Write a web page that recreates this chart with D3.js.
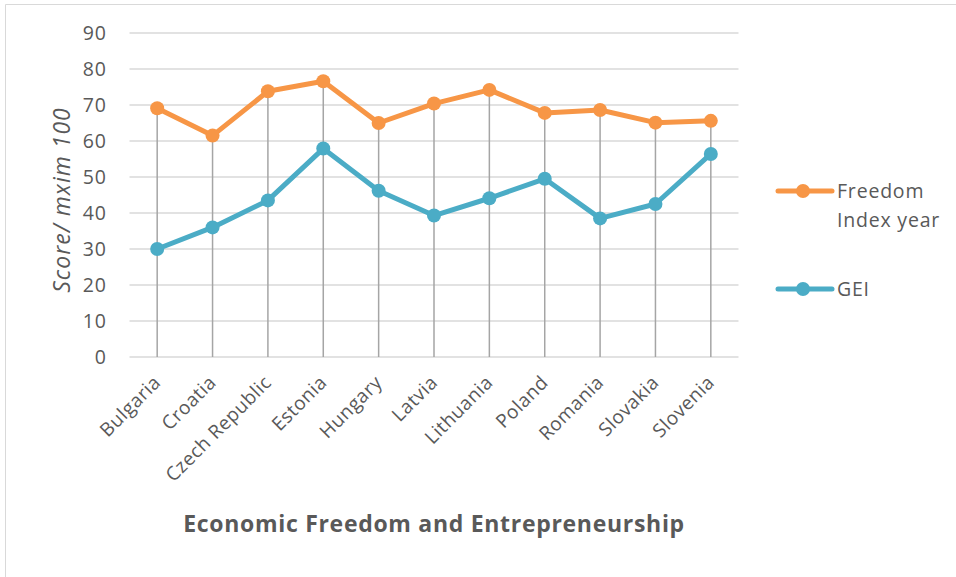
<!DOCTYPE html>
<html lang="en">
<head>
	<meta charset="utf-8">
	<title>Economic Freedom and Entrepreneurship</title>
	<script src="https://cdn.jsdelivr.net/npm/d3@7"></script>
	<style>
		body { margin: 0; background: #fff; }
		text { font-family: "Open Sans", sans-serif; fill: #595959; }
	</style>
</head>
<body>
	<script>
		var countries = ["Bulgaria", "Croatia", "Czech Republic", "Estonia", "Hungary", "Latvia",
			"Lithuania", "Poland", "Romania", "Slovakia", "Slovenia"];
		var freedom = [69.1, 61.5, 73.8, 76.6, 65.0, 70.4, 74.2, 67.8, 68.6, 65.1, 65.6];
		var gei = [30.0, 36.0, 43.5, 57.9, 46.2, 39.3, 44.1, 49.5, 38.5, 42.5, 56.4];
		var yTicks = [0, 10, 20, 30, 40, 50, 60, 70, 80, 90];

		var w = 956, h = 577;
		var svg = d3.select("body").append("svg")
			.attr("width", w)
			.attr("height", h);

		// frame of the chart area
		svg.append("path")
			.attr("d", "M5.5,577 V4.5 H956")
			.attr("fill", "none")
			.attr("stroke", "#d9d9d9");

		var x = d3.scaleBand().domain(countries).range([129.5, 738.5]);
		var y = d3.scaleLinear().domain([0, 90]).range([357, 33]);
		var cx = function(d) { return x(d) + x.bandwidth() / 2; };

		// gridlines
		svg.append("g").selectAll("line")
			.data(yTicks)
			.enter().append("line")
			.attr("x1", 129.5).attr("x2", 738.5)
			.attr("y1", function(d) { return y(d); })
			.attr("y2", function(d) { return y(d); })
			.attr("stroke", "#d9d9d9")
			.attr("stroke-width", 1.5);

		// y axis labels
		var yAxis = d3.axisLeft(y).tickValues(yTicks).tickSize(0).tickPadding(0);
		svg.append("g")
			.attr("transform", "translate(107,0)")
			.call(yAxis)
			.call(function(g) { g.select(".domain").remove(); })
			.selectAll("text")
			.attr("font-family", "Open Sans")
			.attr("font-size", "19.5px")
			.attr("letter-spacing", "1px")
			.attr("fill", "#595959");

		// drop lines
		svg.append("g").selectAll("line")
			.data(countries)
			.enter().append("line")
			.attr("x1", cx).attr("x2", cx)
			.attr("y1", y(0))
			.attr("y2", function(d, i) { return y(Math.max(freedom[i], gei[i])); })
			.attr("stroke", "#a5a5a5")
			.attr("stroke-width", 1.5);

		// x axis labels
		svg.append("g").selectAll("text")
			.data(countries)
			.enter().append("text")
			.attr("transform", function(d) { return "translate(" + cx(d) + ",379) rotate(-45)"; })
			.attr("text-anchor", "end")
			.attr("dy", "0.35em")
			.attr("font-size", "19px")
			.attr("letter-spacing", "0.5px")
			.text(function(d) { return d; });

		var series = [
			{ name: ["Freedom", "Index year"], values: freedom, color: "#f79646", ly: 191 },
			{ name: ["GEI"], values: gei, color: "#4bacc6", ly: 289 }
		];

		var line = d3.line()
			.x(function(d, i) { return cx(countries[i]); })
			.y(function(d) { return y(d); });

		series.forEach(function(s) {
			svg.append("path")
				.datum(s.values)
				.attr("d", line)
				.attr("fill", "none")
				.attr("stroke", s.color)
				.attr("stroke-width", 5)
				.attr("stroke-linejoin", "round");

			svg.append("g").selectAll("circle")
				.data(s.values)
				.enter().append("circle")
				.attr("cx", function(d, i) { return cx(countries[i]); })
				.attr("cy", function(d) { return y(d); })
				.attr("r", 7)
				.attr("fill", s.color);

			// legend
			svg.append("line")
				.attr("x1", 778).attr("x2", 832)
				.attr("y1", s.ly).attr("y2", s.ly)
				.attr("stroke", s.color)
				.attr("stroke-width", 5)
				.attr("stroke-linecap", "round");
			svg.append("circle")
				.attr("cx", 803).attr("cy", s.ly)
				.attr("r", 7)
				.attr("fill", s.color);
			var t = svg.append("text")
				.attr("x", 837)
				.attr("y", s.ly)
				.attr("font-size", "19.5px")
				.attr("letter-spacing", "0.8px");
			s.name.forEach(function(n, k) {
				t.append("tspan").attr("x", 837).attr("dy", k === 0 ? "0.35em" : "1.5em").text(n);
			});
		});

		// axis titles
		svg.append("text")
			.attr("transform", "translate(70,200) rotate(-90)")
			.attr("text-anchor", "middle")
			.attr("font-size", "23px")
			.attr("font-style", "italic")
			.attr("letter-spacing", "1px")
			.text("Score/ mxim 100");

		svg.append("text")
			.attr("x", 434)
			.attr("y", 532)
			.attr("text-anchor", "middle")
			.attr("font-size", "23px")
			.attr("font-weight", "bold")
			.attr("letter-spacing", "0.7px")
			.text("Economic Freedom and Entrepreneurship");
	</script>
</body>
</html>
